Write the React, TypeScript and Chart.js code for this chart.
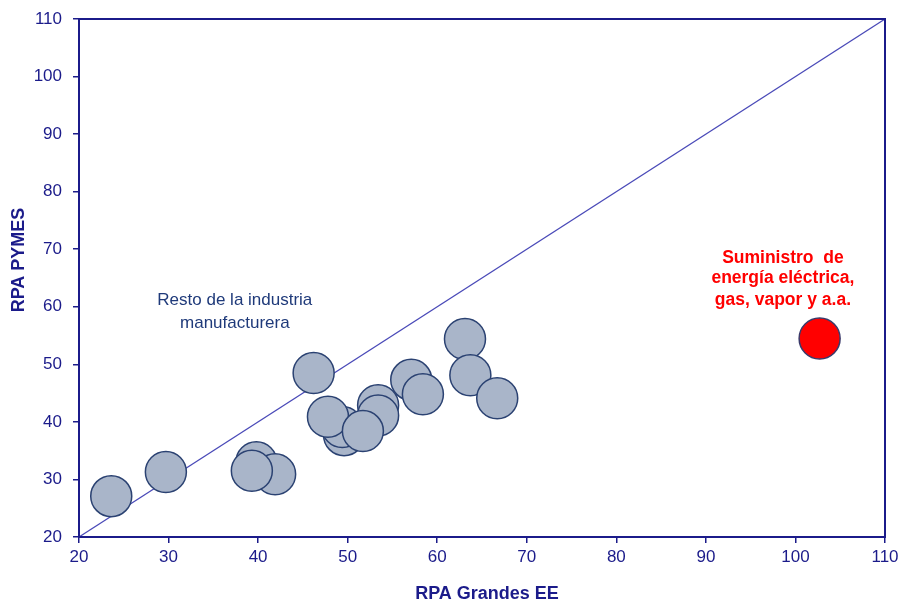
import React, { useEffect, useRef } from "react";
import { Chart, registerables } from "chart.js";

Chart.register(...registerables);

const xValues = [23.6, 29.7, 39.8, 41.9, 39.3, 46.2, 49.6, 49.4, 47.8, 53.4, 53.4, 51.7, 57.1, 58.4, 63.1, 63.7, 66.7];
const yValues = [27.1, 31.3, 33.0, 30.9, 31.5, 48.5, 37.7, 39.1, 40.9, 42.9, 41.1, 38.4, 47.3, 44.8, 54.4, 48.1, 44.1];
const energyX = [102.7];
const energyY = [54.5];
const diagonal = [20, 110];
const xTicks = [20, 30, 40, 50, 60, 70, 80, 90, 100, 110];
const yTicks = [20, 30, 40, 50, 60, 70, 80, 90, 100, 110];
const xTitle = "RPA Grandes EE";
const yTitle = "RPA PYMES";
const restoLabel = ["Resto de la industria", "manufacturera"];
const restoPos = { x: 37.4, y: [61.1, 57.1] };
const energyLabel = ["Suministro  de", "energía eléctrica,", "gas, vapor y a.a."];
const energyPos = { x: 98.6, y: [68.5, 64.9, 61.2] };

const NAVY = "#1b1b8a";
const FONT = "'Liberation Sans', Arial, sans-serif";

export default function App() {
  const ref = useRef<HTMLCanvasElement | null>(null);
  useEffect(() => {
    if (!ref.current) return;
    const framePlugin = {
      id: "frame",
      afterDraw(chart: any) {
        const { ctx, chartArea } = chart;
        ctx.save();
        ctx.strokeStyle = NAVY;
        ctx.lineWidth = 2;
        ctx.strokeRect(chartArea.left, chartArea.top, chartArea.right - chartArea.left, chartArea.bottom - chartArea.top);
        const xs = chart.scales.x;
        const ys = chart.scales.y;
        ctx.textAlign = "center";
        ctx.textBaseline = "middle";
        ctx.font = `17px ${FONT}`;
        ctx.fillStyle = "#1f3a7a";
        restoLabel.forEach((t, i) => ctx.fillText(t, xs.getPixelForValue(restoPos.x), ys.getPixelForValue(restoPos.y[i])));
        ctx.font = `bold 17.5px ${FONT}`;
        ctx.fillStyle = "#ff0000";
        energyLabel.forEach((t, i) => ctx.fillText(t, xs.getPixelForValue(energyPos.x), ys.getPixelForValue(energyPos.y[i])));
        // axis titles (canvas is offset 3px upward)
        ctx.font = `bold 18px ${FONT}`;
        ctx.fillStyle = NAVY;
        ctx.fillText(xTitle, 487, 597);
        ctx.translate(19, 263);
        ctx.rotate(-Math.PI / 2);
        ctx.fillText(yTitle, 0, 0);
        ctx.restore();
      },
    };
    const chart = new Chart(ref.current, {
      type: "bubble",
      data: {
        datasets: [
          {
            type: "line",
            data: diagonal.map((v) => ({ x: v, y: v })),
            borderColor: "#4a4ab8",
            borderWidth: 1.2,
            pointRadius: 0,
            fill: false,
            order: 3,
          } as any,
          {
            data: xValues.map((x, i) => ({ x, y: yValues[i], r: 20.5 })),
            backgroundColor: "#a9b5c9",
            borderColor: "#2b4272",
            borderWidth: 1.5,
            order: 2,
          },
          {
            data: energyX.map((x, i) => ({ x, y: energyY[i], r: 20.5 })),
            backgroundColor: "#ff0000",
            borderColor: "#3a3a6a",
            borderWidth: 1.5,
            order: 1,
          },
        ],
      },
      options: {
        animation: false,
        responsive: true,
        maintainAspectRatio: false,
        layout: { padding: { left: 0, right: 14, top: 13, bottom: 0 } },
        plugins: { legend: { display: false }, tooltip: { enabled: false } },
        scales: {
          x: {
            type: "linear",
            min: 20,
            max: 110,
            afterBuildTicks: (s: any) => { s.ticks = xTicks.map((v) => ({ value: v })); },
            afterFit: (s: any) => { s.height = 66; },
            ticks: { color: NAVY, font: { family: FONT, size: 17 }, padding: 4 },
            grid: { display: true, drawOnChartArea: false, drawTicks: true, tickLength: 6, color: NAVY, lineWidth: 1.5 },
            border: { display: true, color: NAVY, width: 2 },
          },
          y: {
            type: "linear",
            min: 20,
            max: 110,
            afterBuildTicks: (s: any) => { s.ticks = yTicks.map((v) => ({ value: v })); },
            afterFit: (s: any) => { s.width = 79; },
            ticks: { color: NAVY, font: { family: FONT, size: 17 }, padding: 11 },
            grid: { display: true, drawOnChartArea: false, drawTicks: true, tickLength: 6, color: NAVY, lineWidth: 1.5 },
            border: { display: true, color: NAVY, width: 2 },
          },
        },
      } as any,
      plugins: [framePlugin],
    });
    return () => chart.destroy();
  }, []);
  return (
    <div style={{ position: "fixed", left: 0, top: -3, width: 907, height: 606, background: "#fff" }}>
      <canvas ref={ref} />
    </div>
  );
}
